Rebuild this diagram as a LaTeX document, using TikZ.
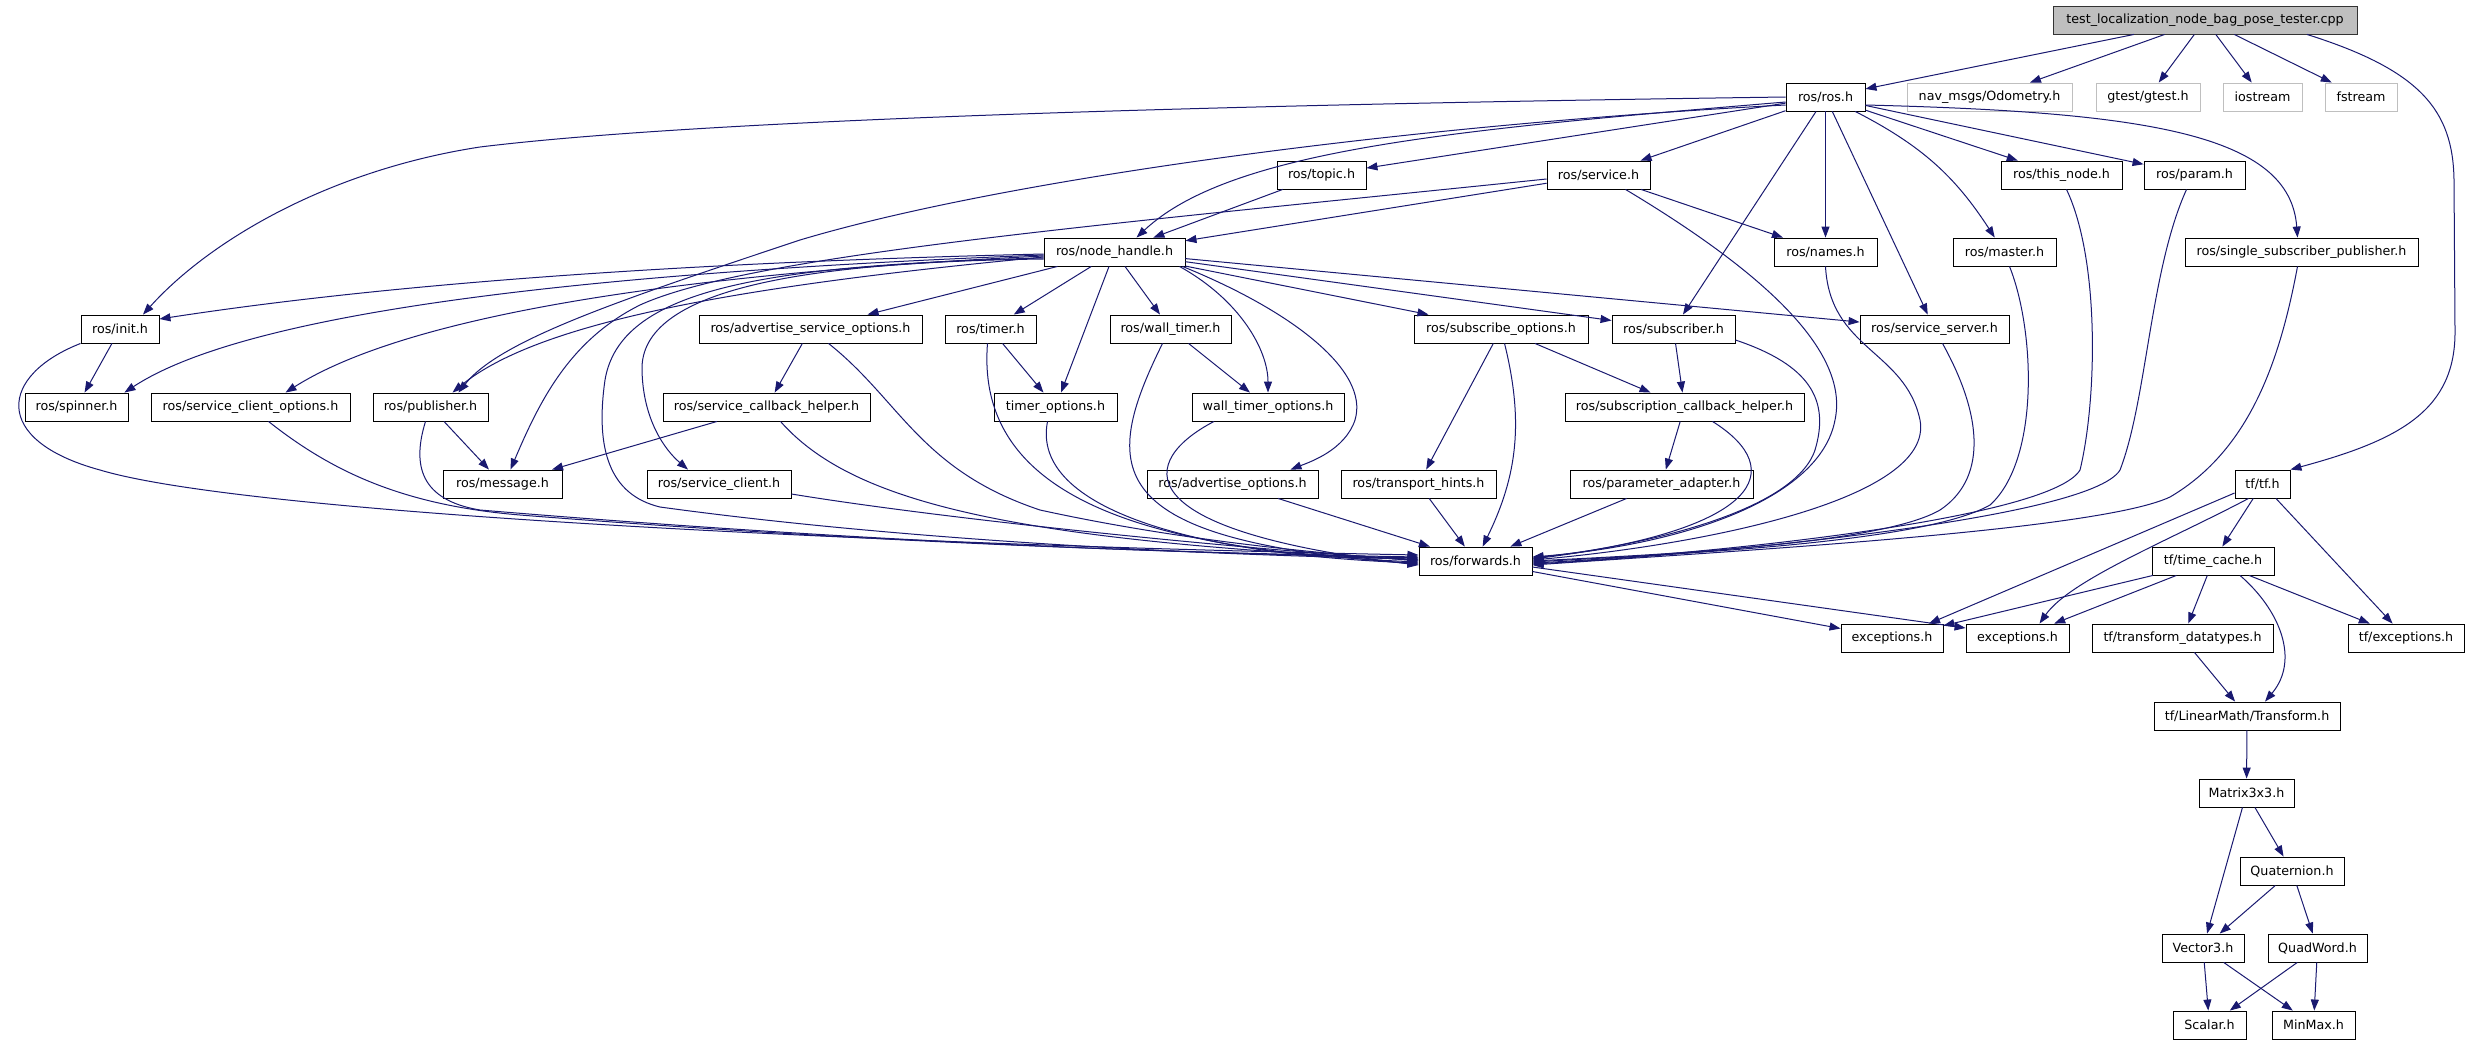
\documentclass[tikz,border=0pt]{standalone}
\usepackage{fontspec}
\setmainfont{DejaVu Sans}
\usetikzlibrary{arrows.meta,positioning,calc}
\definecolor{edgeblue}{RGB}{25,25,112}

\begin{document}
\begin{tikzpicture}[x=1pt, y=-1pt,
  hdr/.style={draw=black, line width=0.9pt, fill=white, rectangle, inner sep=0pt,
    minimum height=28pt, font=\fontsize{12.7}{15}\selectfont},
  ext/.style={hdr, draw=black!25},
  rootbox/.style={hdr, fill=black!25, draw=black!80},
  inc/.style={-{Triangle[length=11pt, width=8pt]}, draw=edgeblue, line width=1pt}]
\fill[white] (0,0) rectangle (2468,1045);
\useasboundingbox (0,0) rectangle (2468,1045);

% row 0 / 1
\node[rootbox, minimum width=304] (root) at (2205,20) {test\_localization\_node\_bag\_pose\_tester.cpp};
\node[hdr, minimum width=79] (rosh) at (1825.5,97) {ros/ros.h};
\node[ext, minimum width=165] (nav) at (1989.5,97) {nav\_msgs/Odometry.h};
\node[ext, minimum width=104] (gtest) at (2148,97) {gtest/gtest.h};
\node[ext, minimum width=79] (iostream) at (2262.5,97) {iostream};
\node[ext, minimum width=72] (fstream) at (2361,97) {fstream};

% row 2 / 3
\node[hdr, minimum width=89] (topic) at (1321.5,175) {ros/topic.h};
\node[hdr, minimum width=103] (service) at (1598.5,175) {ros/service.h};
\node[hdr, minimum width=121] (thisnode) at (2061.5,175) {ros/this\_node.h};
\node[hdr, minimum width=101] (param) at (2194.5,175) {ros/param.h};
\node[hdr, minimum width=141] (nodehandle) at (1114.5,252) {ros/node\_handle.h};
\node[hdr, minimum width=103] (names) at (1825.5,252) {ros/names.h};
\node[hdr, minimum width=103] (master) at (2004.5,252) {ros/master.h};
\node[hdr, minimum width=233] (single) at (2301.5,252) {ros/single\_subscriber\_publisher.h};

% row 4
\node[hdr, minimum width=78] (init) at (120,329) {ros/init.h};
\node[hdr, minimum width=223] (aso) at (810.5,329) {ros/advertise\_service\_options.h};
\node[hdr, minimum width=91] (timer) at (990.5,329) {ros/timer.h};
\node[hdr, minimum width=121] (walltimer) at (1170.5,329) {ros/wall\_timer.h};
\node[hdr, minimum width=174] (subopt) at (1501,329) {ros/subscribe\_options.h};
\node[hdr, minimum width=123] (subscriber) at (1673.5,329) {ros/subscriber.h};
\node[hdr, minimum width=149] (srvserver) at (1934.5,329) {ros/service\_server.h};

% row 5
\node[hdr, minimum width=103] (spinner) at (76.5,407) {ros/spinner.h};
\node[hdr, minimum width=199] (sco) at (250.5,407) {ros/service\_client\_options.h};
\node[hdr, minimum width=115] (publisher) at (430.5,407) {ros/publisher.h};
\node[hdr, minimum width=207] (scbh) at (766.5,407) {ros/service\_callback\_helper.h};
\node[hdr, minimum width=123] (timeropt) at (1055.5,407) {timer\_options.h};
\node[hdr, minimum width=152] (walltimeropt) at (1268,407) {wall\_timer\_options.h};
\node[hdr, minimum width=239] (subcb) at (1684.5,407) {ros/subscription\_callback\_helper.h};

% row 6
\node[hdr, minimum width=119] (message) at (502.5,484) {ros/message.h};
\node[hdr, minimum width=144] (srvclient) at (719,484) {ros/service\_client.h};
\node[hdr, minimum width=171] (advopt) at (1232.5,484) {ros/advertise\_options.h};
\node[hdr, minimum width=155] (transport) at (1418.5,484) {ros/transport\_hints.h};
\node[hdr, minimum width=183] (paramadapt) at (1661.5,484) {ros/parameter\_adapter.h};
\node[hdr, minimum width=55] (tf) at (2262.5,484) {tf/tf.h};

% row 7 / 8
\node[hdr, minimum width=113] (forwards) at (1475.5,561) {ros/forwards.h};
\node[hdr, minimum width=122] (timecache) at (2213,561) {tf/time\_cache.h};
\node[hdr, minimum width=102] (exc1) at (1892,638) {exceptions.h};
\node[hdr, minimum width=103] (exc2) at (2017.5,638) {exceptions.h};
\node[hdr, minimum width=181] (tfdt) at (2182.5,638) {tf/transform\_datatypes.h};
\node[hdr, minimum width=116] (tfexc) at (2406,638) {tf/exceptions.h};

% LinearMath chain
\node[hdr, minimum width=186] (transform) at (2247,716) {tf/LinearMath/Transform.h};
\node[hdr, minimum width=95] (matrix) at (2246.5,793) {Matrix3x3.h};
\node[hdr, minimum width=104] (quat) at (2292,871) {Quaternion.h};
\node[hdr, minimum width=82] (vector3) at (2203,948) {Vector3.h};
\node[hdr, minimum width=99] (quadword) at (2317.5,948) {QuadWord.h};
\node[hdr, minimum width=73] (scalar) at (2209.5,1025) {Scalar.h};
\node[hdr, minimum width=83] (minmax) at (2313.5,1025) {MinMax.h};

% from the test file
\draw[inc] (root) -- (rosh);
\draw[inc] (root) -- (nav);
\draw[inc] (root) -- (gtest);
\draw[inc] (root) -- (iostream);
\draw[inc] (root) -- (fstream);
\draw[inc] ([xshift=102pt]root.south) .. controls (2420,70) and (2453,110) .. (2454,180) -- (2455,330) .. controls (2456,410) and (2400,440) .. (tf.north east);

% ros/ros.h
\draw[inc] (rosh.west) .. controls (1200,105) and (700,120) .. (480,147) .. controls (330,170) and (210,240) .. ([xshift=23pt]init.north);
\draw[inc] ([yshift=-5pt]rosh.west) .. controls (1450,130) and (1230,150) .. ([xshift=22pt]nodehandle.north);
\draw[inc] (rosh) -- (topic);
\draw[inc] (rosh) -- (service);
\draw[inc] ([yshift=-8pt]rosh.west) .. controls (1400,125) and (1000,180) .. (800,240) .. controls (620,300) and (500,340) .. ([xshift=28pt]publisher.north);
\draw[inc] (rosh) -- (names);
\draw[inc] (rosh) -- (subscriber);
\draw[inc] (rosh) -- (srvserver);
\draw[inc] (rosh) to[bend left=15] (master);
\draw[inc] (rosh) -- (thisnode);
\draw[inc] (rosh) -- (param);
\draw[inc] ([yshift=-8pt]rosh.east) .. controls (2150,112) and (2290,135) .. ([xshift=-4pt]single.north);

% topic / service
\draw[inc] (topic) -- (nodehandle);
\draw[inc] (service) -- (nodehandle);
\draw[inc] (service) -- (names);
\draw[inc] ([yshift=-4pt]service.west) .. controls (1100,225) and (750,255) .. (640,305) .. controls (570,340) and (540,400) .. ([xshift=8pt]message.north);
\draw[inc] ([xshift=27pt]service.south) .. controls (1760,270) and (1850,350) .. (1835,420) .. controls (1820,500) and (1680,545) .. ([yshift=4pt]forwards.east);

% node_handle, left side
\draw[inc] ([yshift=-2pt]nodehandle.west) .. controls (700,262) and (400,282) .. ([yshift=10pt]init.east);
\draw[inc] ([yshift=-3pt]nodehandle.west) .. controls (600,272) and (250,310) .. ([xshift=-4pt]spinner.north east);
\draw[inc] ([yshift=-4pt]nodehandle.west) .. controls (650,275) and (400,320) .. ([xshift=35pt]sco.north);
\draw[inc] ([yshift=-5pt]nodehandle.west) .. controls (750,285) and (540,320) .. ([xshift=22pt]publisher.north);
\draw[inc] ([yshift=-7pt]nodehandle.west) .. controls (800,262) and (640,290) .. (642,370) .. controls (643,420) and (665,450) .. ([xshift=-31pt]srvclient.north);
\draw[inc] ([yshift=-6pt]nodehandle.west) .. controls (760,265) and (620,290) .. (605,380) .. controls (595,450) and (610,495) .. (660,507) .. controls (900,540) and (1200,555) .. ([yshift=2pt]forwards.west);

% node_handle, below and right
\draw[inc] (nodehandle) -- (aso);
\draw[inc] (nodehandle) -- (timer);
\draw[inc] (nodehandle) -- (timeropt);
\draw[inc] (nodehandle) -- (walltimer);
\draw[inc] ([xshift=65pt]nodehandle.south) .. controls (1240,300) and (1268,350) .. (walltimeropt.north);
\draw[inc] ([xshift=68pt]nodehandle.south) .. controls (1290,310) and (1370,370) .. (1355,420) .. controls (1345,450) and (1310,462) .. ([xshift=58pt]advopt.north);
\draw[inc] (nodehandle) -- (subopt);
\draw[inc] (nodehandle) -- (subscriber);
\draw[inc] (nodehandle) -- (srvserver);

% into ros/forwards.h from the left
\draw[inc] (init) -- (spinner);
\draw[inc] (init.south west) .. controls (0,375) and (-10,440) .. (100,470) .. controls (250,515) and (900,545) .. ([yshift=6pt]forwards.west);
\draw[inc] ([xshift=18pt]sco.south) .. controls (330,470) and (400,505) .. (520,515) .. controls (900,545) and (1200,553) .. ([yshift=4pt]forwards.west);
\draw[inc] ([xshift=-5pt]publisher.south) .. controls (412,465) and (420,500) .. (480,510) .. controls (900,545) and (1200,553) .. ([yshift=3pt]forwards.west);
\draw[inc] (publisher) -- (message);
\draw[inc] (aso) -- (scbh);
\draw[inc] ([xshift=18pt]aso.south) .. controls (900,400) and (920,470) .. (1040,510) .. controls (1200,545) and (1350,555) .. (forwards.west);
\draw[inc] (scbh) -- (message);
\draw[inc] ([xshift=14pt]scbh.south) .. controls (850,500) and (1000,540) .. ([yshift=1pt]forwards.west);
\draw[inc] ([yshift=-10pt]srvclient.east) .. controls (950,520) and (1250,550) .. ([yshift=1pt]forwards.west);
\draw[inc] (timer) -- (timeropt);
\draw[inc] ([xshift=-3pt]timer.south) .. controls (975,500) and (1150,550) .. ([yshift=-1pt]forwards.west);
\draw[inc] ([xshift=-8pt]timeropt.south) .. controls (1030,510) and (1200,555) .. ([yshift=-2pt]forwards.west);
\draw[inc] ([xshift=-8pt]walltimer.south) .. controls (1100,470) and (1100,540) .. ([yshift=-3pt]forwards.west);
\draw[inc] (walltimer) -- (walltimeropt);
\draw[inc] ([xshift=-54pt]walltimeropt.south) .. controls (1140,460) and (1120,530) .. ([yshift=-4pt]forwards.west);
\draw[inc] (advopt) -- (forwards);

% subscribe side
\draw[inc] (subopt) -- (transport);
\draw[inc] (subopt) to[bend left=20] (forwards);
\draw[inc] (subopt) -- (subcb);
\draw[inc] (transport) -- (forwards);
\draw[inc] (subscriber) -- (subcb);
\draw[inc] ([yshift=-11pt]subscriber.east) .. controls (1810,365) and (1830,400) .. (1815,450) .. controls (1795,510) and (1650,545) .. ([yshift=3pt]forwards.east);
\draw[inc] (subcb) -- (paramadapt);
\draw[inc] ([xshift=28pt]subcb.south) .. controls (1790,470) and (1760,530) .. ([yshift=2pt]forwards.east);
\draw[inc] (paramadapt) -- (forwards);

% into ros/forwards.h from the right
\draw[inc] (names.south) .. controls (1830,350) and (1905,350) .. (1920,420) .. controls (1935,500) and (1700,545) .. ([yshift=1pt]forwards.east);
\draw[inc] ([xshift=8pt]srvserver.south) .. controls (1985,420) and (1985,480) .. (1940,510) .. controls (1880,545) and (1650,555) .. (forwards.east);
\draw[inc] ([xshift=5pt]master.south) .. controls (2035,330) and (2040,460) .. (1990,505) .. controls (1920,545) and (1650,555) .. ([yshift=-1pt]forwards.east);
\draw[inc] ([xshift=5pt]thisnode.south) .. controls (2100,260) and (2097,400) .. (2080,470) .. controls (2050,520) and (1700,555) .. ([yshift=-2pt]forwards.east);
\draw[inc] ([xshift=-8pt]param.south) .. controls (2150,270) and (2147,400) .. (2120,470) .. controls (2090,520) and (1700,555) .. ([yshift=-3pt]forwards.east);
\draw[inc] ([xshift=-4pt]single.south) .. controls (2280,360) and (2250,450) .. (2170,497) .. controls (2100,530) and (1750,550) .. ([yshift=-4pt]forwards.east);

% forwards and tf
\draw[inc] (forwards) -- (exc1);
\draw[inc] ([yshift=-6pt]forwards.east) -- ([yshift=10pt]exc2.west);
\draw[inc] ([yshift=-9pt]tf.west) -- ([xshift=37pt]exc1.north);
\draw[inc] ([xshift=-14pt]tf.south) .. controls (2170,540) and (2070,580) .. ([xshift=22pt]exc2.north);
\draw[inc] (tf) -- (timecache);
\draw[inc] (tf) -- (tfexc);
\draw[inc] (timecache) -- (exc1);
\draw[inc] (timecache) -- (exc2);
\draw[inc] (timecache) -- (tfdt);
\draw[inc] (timecache) -- (tfexc);
\draw[inc] ([xshift=27pt]timecache.south) .. controls (2280,610) and (2300,660) .. ([xshift=18pt]transform.north);
\draw[inc] (tfdt) -- (transform);

% LinearMath
\draw[inc] (transform) -- (matrix);
\draw[inc] (matrix) -- (vector3);
\draw[inc] (matrix) -- (quat);
\draw[inc] (quat) -- (vector3);
\draw[inc] (quat) -- (quadword);
\draw[inc] (vector3) -- (scalar);
\draw[inc] (vector3) -- (minmax);
\draw[inc] (quadword) -- (scalar);
\draw[inc] (quadword) -- (minmax);
\end{tikzpicture}
\end{document}
